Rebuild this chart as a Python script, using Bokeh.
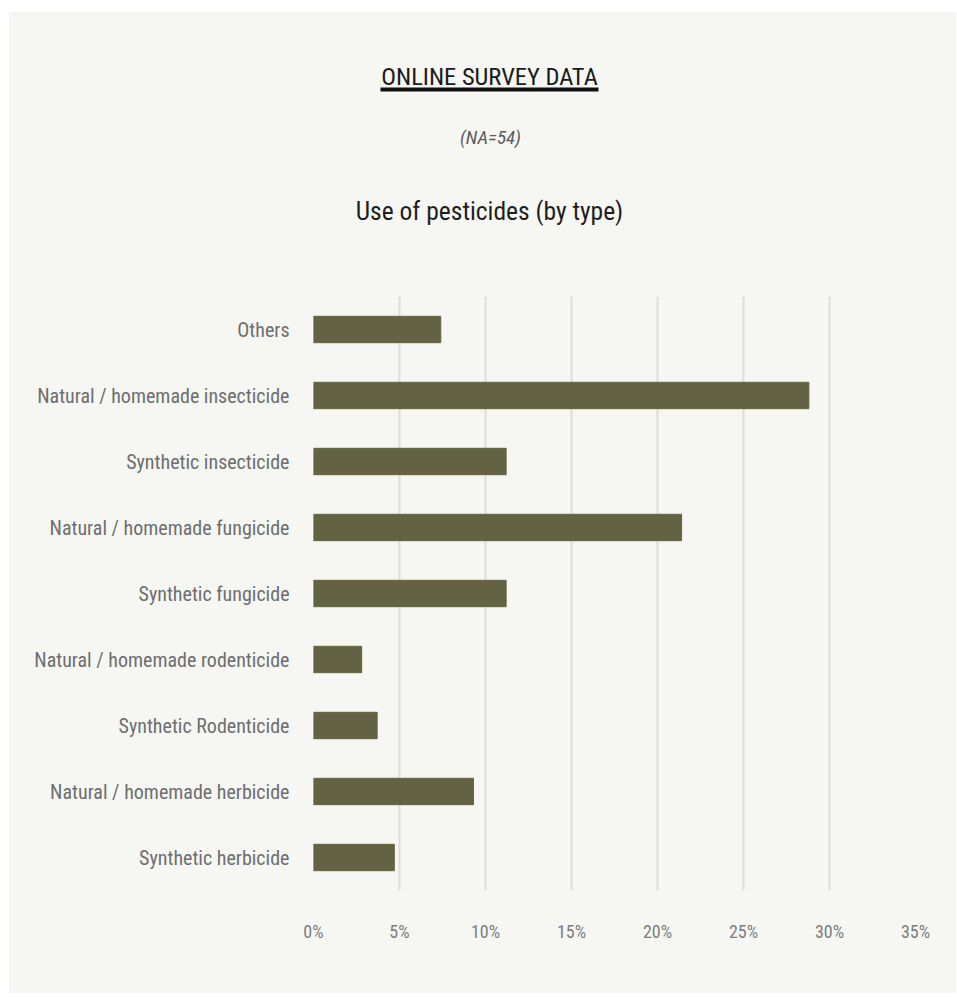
from bokeh.plotting import figure
from bokeh.layouts import column
from bokeh.models import ColumnDataSource, FactorRange, Range1d, Label, BoxAnnotation, FixedTicker
from bokeh.embed import file_html
from bokeh.resources import INLINE

# ---------------- data ----------------
categories = [
    "Others",
    "Natural / homemade insecticide",
    "Synthetic insecticide",
    "Natural / homemade fungicide",
    "Synthetic fungicide",
    "Natural / homemade rodenticide",
    "Synthetic Rodenticide",
    "Natural / homemade herbicide",
    "Synthetic herbicide",
]
shares = [7.4, 28.8, 11.2, 21.4, 11.2, 2.8, 3.7, 9.3, 4.7]
x_ticks = [0, 5, 10, 15, 20, 25, 30, 35]
x_tick_labels = ["0%", "5%", "10%", "15%", "20%", "25%", "30%", "35%"]

title_text = "ONLINE SURVEY DATA"
note_text = "(NA=54)"
subtitle_text = "Use of pesticides (by type)"

# ---------------- style ----------------
BG = "#f6f7f3"
BAR = "#636343"
GRID = "#dcdcdc"
FONT = "Roboto Condensed"

# ---------------- header ----------------
head = figure(
    width=947, height=284,
    x_range=Range1d(0, 1), y_range=Range1d(0, 1),
    output_backend="svg", toolbar_location=None,
    x_axis_location=None, y_axis_location=None,
    min_border_left=304, min_border_right=41,
    min_border_top=0, min_border_bottom=0,
    background_fill_color=BG, border_fill_color=BG,
    outline_line_color=None,
)
head.grid.grid_line_color = None
head.add_layout(Label(x=176, y=220, x_units="screen", y_units="screen",
                      text=title_text, text_align="center", text_baseline="alphabetic",
                      text_font=FONT, text_font_size="24.5px", text_color="#1a1a1a"))
head.add_layout(BoxAnnotation(left=67, right=285, top=209, bottom=205,
                              left_units="screen", right_units="screen",
                              top_units="screen", bottom_units="screen",
                              fill_color="#111111", fill_alpha=1.0, line_color=None))
head.add_layout(Label(x=177, y=159, x_units="screen", y_units="screen",
                      text=note_text, text_align="center", text_baseline="alphabetic",
                      text_font=FONT, text_font_size="19px", text_font_style="italic",
                      text_color="#5a5a5a"))
head.add_layout(Label(x=176, y=86, x_units="screen", y_units="screen",
                      text=subtitle_text, text_align="center", text_baseline="alphabetic",
                      text_font=FONT, text_font_size="25.5px", text_color="#1e1e1e"))

# ---------------- chart ----------------
src = ColumnDataSource(dict(cat=categories, share=shares))

p = figure(
    width=947, height=697,
    x_range=Range1d(0, 35),
    y_range=FactorRange(factors=list(reversed(categories))),
    output_backend="svg", toolbar_location=None,
    min_border_left=304, min_border_right=41,
    min_border_top=0, min_border_bottom=103,
    background_fill_color=BG, border_fill_color=BG,
    outline_line_color=None,
)

p.hbar(y="cat", left=0, right="share", height=0.4, source=src,
       fill_color=BAR, line_color=BAR, line_width=1)

p.ygrid.grid_line_color = None
p.xgrid.ticker = FixedTicker(ticks=x_ticks)
p.xgrid.grid_line_color = GRID
p.xgrid.grid_line_width = 2

p.xaxis.ticker = FixedTicker(ticks=x_ticks)
p.xaxis.major_label_overrides = {t: l for t, l in zip(x_ticks, x_tick_labels)}
p.xaxis.axis_line_color = None
p.xaxis.major_tick_line_color = None
p.xaxis.minor_tick_line_color = None
p.xaxis.major_tick_out = 0
p.xaxis.major_tick_in = 0
p.xaxis.major_label_standoff = 30
p.xaxis.major_label_text_font = FONT
p.xaxis.major_label_text_font_size = "18px"
p.xaxis.major_label_text_color = "#7d7d7d"

p.yaxis.axis_line_color = None
p.yaxis.major_tick_line_color = None
p.yaxis.minor_tick_line_color = None
p.yaxis.major_tick_out = 0
p.yaxis.major_tick_in = 0
p.yaxis.major_label_standoff = 24
p.yaxis.major_label_text_font = FONT
p.yaxis.major_label_text_font_size = "20px"
p.yaxis.major_label_text_color = "#6e6e6e"

layout = column(head, p, spacing=0, margin=(12, 0, 0, 9),
                styles={"background-color": BG})
open("out.html", "w").write(file_html(layout, INLINE))
